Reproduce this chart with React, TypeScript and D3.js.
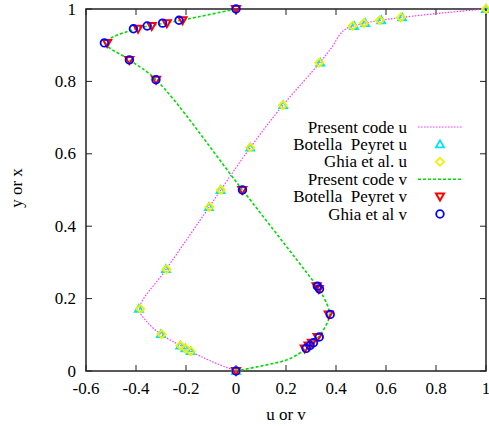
import React from "react";
import * as d3 from "d3";

// ---------- data ----------
const uY = [1.0, 0.9766, 0.9688, 0.9609, 0.9531, 0.8516, 0.7344, 0.6172, 0.5, 0.4531, 0.2813, 0.1719, 0.1016, 0.0703, 0.0625, 0.0547, 0];
const ghiaU = [1, 0.65928, 0.57492, 0.51117, 0.46604, 0.33304, 0.18719, 0.05702, -0.0608, -0.10648, -0.27805, -0.38289, -0.2973, -0.2222, -0.20196, -0.18109, 0];
const botellaU = [1, 0.6644, 0.5808, 0.5169, 0.4723, 0.3372, 0.1887, 0.057, -0.0621, -0.1082, -0.2804, -0.3886, -0.3005, -0.2229, -0.2023, -0.1813, 0];

const vX = [1, 0.9688, 0.9609, 0.9531, 0.9453, 0.9063, 0.8594, 0.8047, 0.5, 0.2344, 0.2266, 0.1563, 0.0938, 0.0781, 0.0703, 0.0625, 0];
const ghiaV = [0, -0.2279, -0.2937, -0.3553, -0.4104, -0.5264, -0.4265, -0.3202, 0.0258, 0.3254, 0.334, 0.3769, 0.333, 0.3099, 0.2963, 0.2807, 0];
const botellaV = [0, -0.21388, -0.27669, -0.33714, -0.39188, -0.5155, -0.42665, -0.31966, 0.02526, 0.32235, 0.33075, 0.37095, 0.32627, 0.30353, 0.29012, 0.27485, 0];

const presentY = [0, 0.02, 0.04, 0.0547, 0.0625, 0.0703, 0.1016, 0.135, 0.1719, 0.2813, 0.4531, 0.5, 0.6172, 0.7344, 0.8516, 0.895, 0.928, 0.944, 0.9531, 0.9609, 0.9688, 0.9766, 0.99, 1];
const presentU = [0, -0.075, -0.14, -0.182, -0.203, -0.223, -0.3, -0.355, -0.386, -0.279, -0.107, -0.061, 0.057, 0.188, 0.335, 0.384, 0.414, 0.437, 0.47, 0.514, 0.578, 0.662, 0.84, 1];

const presentX = [0, 0.017, 0.03, 0.047, 0.0625, 0.0703, 0.0781, 0.0938, 0.1563, 0.2266, 0.2344, 0.5, 0.8047, 0.8594, 0.9063, 0.9453, 0.9531, 0.9609, 0.9688, 1];
const presentV = [0, 0.123, 0.2, 0.25, 0.278, 0.293, 0.306, 0.33, 0.374, 0.332, 0.324, 0.026, -0.32, -0.426, -0.521, -0.4, -0.346, -0.285, -0.22, 0];

const xTicks = [-0.6, -0.4, -0.2, 0, 0.2, 0.4, 0.6, 0.8, 1];
const yTicks = [0, 0.2, 0.4, 0.6, 0.8, 1];

const legendLabels = ["Present code u", "Botella  Peyret u", "Ghia et al. u", "Present code v", "Botella  Peyret v", "Ghia et al v"];

// ---------- layout ----------
const W = 489, H = 426;
const L = 86, R = 486, T = 9, B = 371;
const FONT = "'Liberation Serif', 'Times New Roman', serif";
const FS = 17;

const x = d3.scaleLinear().domain([-0.6, 1]).range([L, R]);
const y = d3.scaleLinear().domain([0, 1]).range([B, T]);

const curve = d3.line<[number, number]>().x(d => x(d[0])).y(d => y(d[1])).curve(d3.curveCatmullRom.alpha(0.5));

const MAG = "#ff33ff";
const GREEN = "#00dd00";

function TriUp({ cx, cy, color }: { cx: number; cy: number; color: string }) {
  const s = 4;
  return <path d={`M${cx},${cy - s}L${cx + s},${cy + s * 0.75}L${cx - s},${cy + s * 0.75}Z`} fill="none" stroke={color} strokeWidth={1.8} />;
}
function TriDown({ cx, cy, color }: { cx: number; cy: number; color: string }) {
  const s = 4;
  return <path d={`M${cx},${cy + s}L${cx + s},${cy - s * 0.75}L${cx - s},${cy - s * 0.75}Z`} fill="none" stroke={color} strokeWidth={2} />;
}
function Diamond({ cx, cy, color }: { cx: number; cy: number; color: string }) {
  const s = 4;
  return <path d={`M${cx},${cy - s}L${cx + s},${cy}L${cx},${cy + s}L${cx - s},${cy}Z`} fill="none" stroke={color} strokeWidth={1.8} />;
}
function Circ({ cx, cy, color }: { cx: number; cy: number; color: string }) {
  return <circle cx={cx} cy={cy} r={3.8} fill="none" stroke={color} strokeWidth={1.8} />;
}

export default function App() {
  const uLine = curve(presentY.map((yy, i) => [presentU[i], yy] as [number, number])) || "";
  const vLine = curve(presentX.map((xx, i) => [presentV[i], xx] as [number, number])) || "";

  const legX = 407, legSampleA = 418, legSampleB = 463, legMark = 440;
  const legY0 = 127, legDY = 17.4;

  return (
    <svg width={W} height={H} style={{ position: "absolute", left: 0, top: 0, background: "#fff" }} fontFamily={FONT}>
      {/* border */}
      <rect x={L} y={T} width={R - L} height={B - T} fill="none" stroke="#222" strokeWidth={1.5} />
      {/* ticks */}
      {xTicks.map(t => (
        <g key={"xt" + t}>
          <line x1={x(t)} x2={x(t)} y1={B} y2={B - 6} stroke="#222" strokeWidth={1} />
          <line x1={x(t)} x2={x(t)} y1={T} y2={T + 6} stroke="#222" strokeWidth={1} />
          <text x={x(t)} y={394} textAnchor="middle" fontSize={FS} fill="#000">{t === 0 || t === 1 ? String(t) : t.toFixed(1)}</text>
        </g>
      ))}
      {yTicks.map(t => (
        <g key={"yt" + t}>
          <line x1={L} x2={L + 6} y1={y(t)} y2={y(t)} stroke="#222" strokeWidth={1} />
          <line x1={R} x2={R - 6} y1={y(t)} y2={y(t)} stroke="#222" strokeWidth={1} />
          <text x={76} y={y(t) + 5.5} textAnchor="end" fontSize={FS} fill="#000">{t === 0 || t === 1 ? String(t) : t.toFixed(1)}</text>
        </g>
      ))}
      <text x={(L + R) / 2} y={420} textAnchor="middle" fontSize={FS}>u or v</text>
      <text transform={`translate(22,188) rotate(-90)`} textAnchor="middle" fontSize={FS}>y or x</text>

      {/* series u */}
      <path d={uLine} fill="none" stroke={MAG} strokeWidth={1.2} strokeDasharray="1.5,1.5" />
      {uY.map((yy, i) => <TriUp key={"bu" + i} cx={x(botellaU[i])} cy={y(yy)} color="#00e5ee" />)}
      {uY.map((yy, i) => <Diamond key={"gu" + i} cx={x(ghiaU[i])} cy={y(yy)} color="#f0f000" />)}
      {/* series v */}
      <path d={vLine} fill="none" stroke={GREEN} strokeWidth={1.6} strokeDasharray="3,2" />
      {vX.map((xx, i) => <TriDown key={"bv" + i} cx={x(botellaV[i])} cy={y(xx)} color="#ff0000" />)}
      {vX.map((xx, i) => <Circ key={"gv" + i} cx={x(ghiaV[i])} cy={y(xx)} color="#0000ff" />)}

      {/* legend */}
      {legendLabels.map((lab, i) => {
        const ly = legY0 + i * legDY;
        return (
          <g key={"lg" + i}>
            <text x={legX} y={ly + 5.5} textAnchor="end" fontSize={FS} style={{ whiteSpace: "pre" }}>{lab}</text>
            {i === 0 && <line x1={legSampleA} x2={legSampleB} y1={ly} y2={ly} stroke={MAG} strokeWidth={1.2} strokeDasharray="1.5,1.5" />}
            {i === 1 && <TriUp cx={legMark} cy={ly} color="#00e5ee" />}
            {i === 2 && <Diamond cx={legMark} cy={ly} color="#f0f000" />}
            {i === 3 && <line x1={legSampleA} x2={legSampleB} y1={ly} y2={ly} stroke={GREEN} strokeWidth={1.6} strokeDasharray="3,2" />}
            {i === 4 && <TriDown cx={legMark} cy={ly} color="#ff0000" />}
            {i === 5 && <Circ cx={legMark} cy={ly} color="#0000ff" />}
          </g>
        );
      })}
    </svg>
  );
}
